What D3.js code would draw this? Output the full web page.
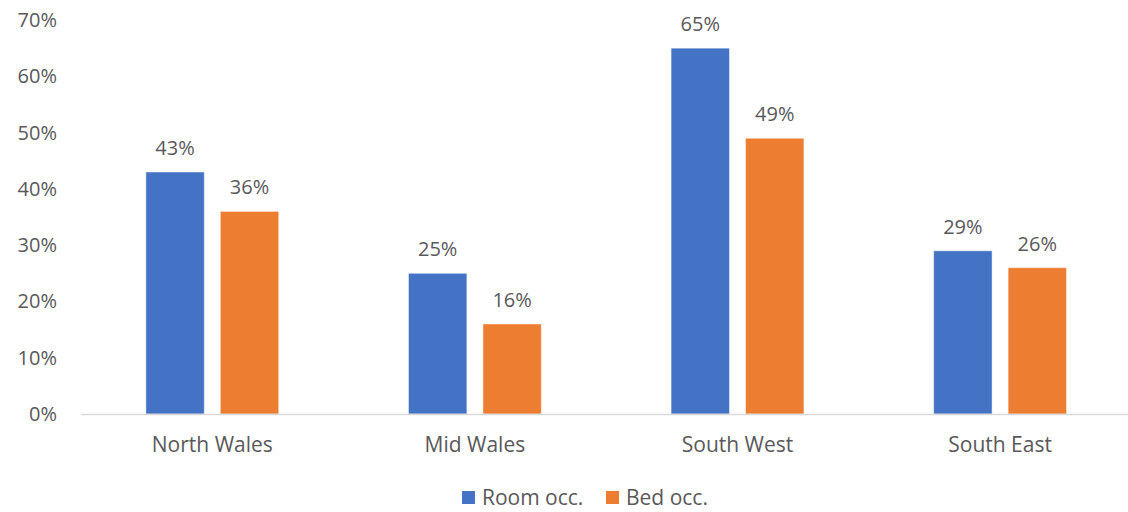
<!DOCTYPE html>
<html>
<head>
<meta charset="utf-8">
<script src="https://cdn.jsdelivr.net/npm/d3@7"></script>
<style>
  html, body { margin: 0; padding: 0; background: #fff; }
  svg text { font-family: "Open Sans", "Noto Sans", sans-serif; fill: #595959; }
</style>
</head>
<body>
<svg id="chart" width="1128" height="512"></svg>
<script>
// Occupancy by region
const regions = ["North Wales", "Mid Wales", "South West", "South East"];
const seriesNames = ["Room occ.", "Bed occ."];
const roomOcc = [43, 25, 65, 29];
const bedOcc = [36, 16, 49, 26];
const yTicks = [0, 10, 20, 30, 40, 50, 60, 70];
const colors = ["#4472C4", "#ED7D31"];

const FS_NUM = 20;   // percentages
const FS_TXT = 21;   // category names and legend
const svg = d3.select("#chart");
const W = 1128;
const margin = { left: 81, top: 20, bottom: 414 };

const x0 = d3.scaleBand()
  .domain(regions)
  .range([margin.left, margin.left + 4 * 262.6])
  .paddingInner(0.494)
  .paddingOuter(0.247);

const x1 = d3.scaleBand()
  .domain(seriesNames)
  .range([0, x0.bandwidth()])
  .paddingInner(0.215)
  .paddingOuter(0);

const y = d3.scaleLinear().domain([0, 70]).range([margin.bottom, margin.top]);

// y tick labels
svg.append("g").selectAll("text")
  .data(yTicks)
  .join("text")
  .attr("x", 57)
  .attr("y", d => y(d))
  .attr("dy", "0.35em")
  .attr("text-anchor", "end")
  .attr("font-size", FS_NUM)
  .text(d => d + "%");

const rows = regions.map((r, i) => ({ region: r, values: [roomOcc[i], bedOcc[i]] }));

const groups = svg.append("g").selectAll("g")
  .data(rows)
  .join("g")
  .attr("transform", d => `translate(${x0(d.region)},0)`);

groups.selectAll("rect")
  .data(d => d.values.map((v, j) => ({ key: seriesNames[j], v, j })))
  .join("rect")
  .attr("x", d => x1(d.key))
  .attr("y", d => y(d.v))
  .attr("width", x1.bandwidth())
  .attr("height", d => y(0) - y(d.v))
  .attr("fill", d => colors[d.j])
  .attr("stroke", "#ffffff")
  .attr("stroke-opacity", 0.5)
  .attr("stroke-width", 1);

groups.selectAll("text.val")
  .data(d => d.values.map((v, j) => ({ key: seriesNames[j], v, j })))
  .join("text")
  .attr("class", "val")
  .attr("x", d => x1(d.key) + x1.bandwidth() / 2)
  .attr("y", d => y(d.v) - 17)
  .attr("text-anchor", "middle")
  .attr("font-size", FS_NUM)
  .text(d => d.v + "%");

// baseline
svg.append("line")
  .attr("x1", margin.left)
  .attr("x2", W)
  .attr("y1", y(0) + 0.5)
  .attr("y2", y(0) + 0.5)
  .attr("stroke", "#d9d9d9")
  .attr("stroke-width", 1.5);

// category labels
svg.append("g").selectAll("text")
  .data(regions)
  .join("text")
  .attr("x", d => x0(d) + x0.bandwidth() / 2)
  .attr("y", 452)
  .attr("text-anchor", "middle")
  .attr("font-size", FS_TXT)
  .text(d => d);

// legend
const legendItems = [
  { name: seriesNames[0], color: colors[0], x: 462 },
  { name: seriesNames[1], color: colors[1], x: 606 }
];
const lg = svg.append("g").selectAll("g")
  .data(legendItems)
  .join("g")
  .attr("transform", d => `translate(${d.x},0)`);
lg.append("rect")
  .attr("x", 0).attr("y", 491)
  .attr("width", 13).attr("height", 13)
  .attr("fill", d => d.color);
lg.append("text")
  .attr("x", 20).attr("y", 505)
  .attr("font-size", FS_TXT)
  .text(d => d.name);
</script>
</body>
</html>
